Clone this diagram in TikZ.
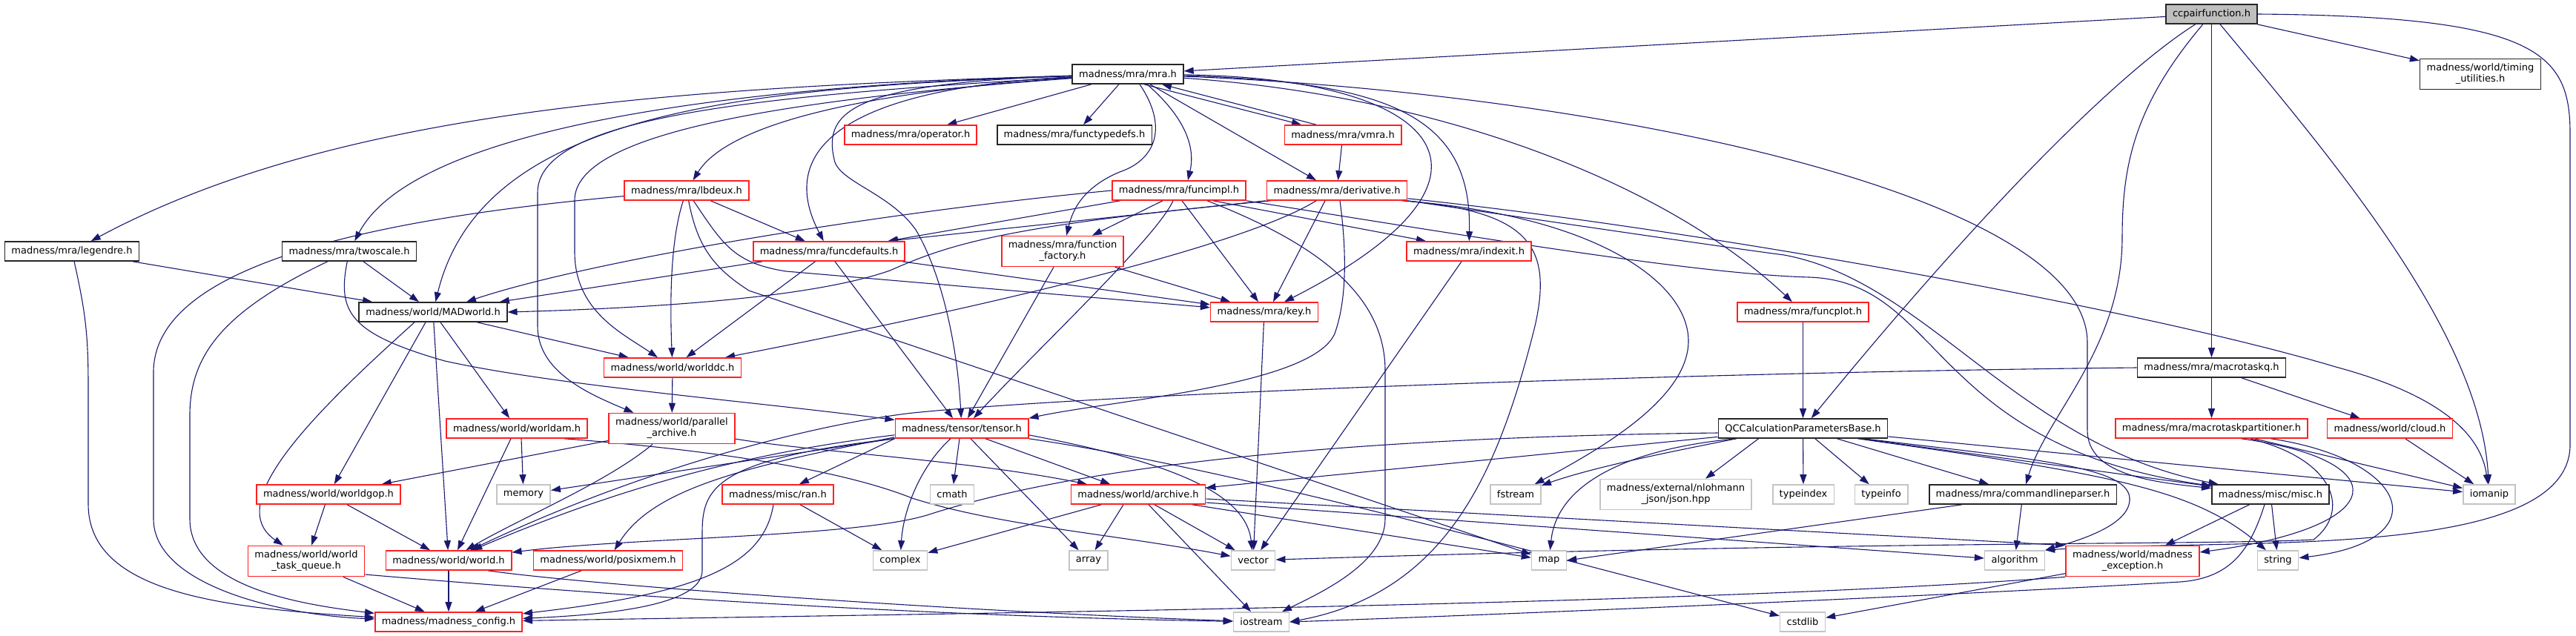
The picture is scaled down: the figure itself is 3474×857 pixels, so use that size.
\documentclass[tikz,border=0pt]{standalone}
\usepackage{fontspec}
\newfontfamily\nodefont{DejaVu Sans}
\usetikzlibrary{arrows.meta}
\definecolor{edgec}{HTML}{191970}
\definecolor{dred}{HTML}{FF2020}
\definecolor{lgray}{HTML}{C4C4C4}
\definecolor{ccfill}{HTML}{BFBFBF}
\pgfdeclarelayer{bg}
\pgfsetlayers{bg,main}
\tikzset{
  box/.style={draw, rectangle, line width=1.6pt, inner xsep=9pt, inner ysep=0pt,
    minimum height=26pt, font={\nodefont\fontsize{13}{15}\selectfont}, align=center, fill=white},
  rbox/.style={box, draw=dred},
  bbox/.style={box, draw=black!85},
  gbox/.style={box, draw=lgray},
  two/.style={minimum height=41pt},
  e/.style={draw=edgec, line width=1.1pt, -{Triangle[length=13pt,width=9pt]}},
}
\begin{document}
\begin{tikzpicture}[x=1pt,y=-1pt]
\useasboundingbox (0,0) rectangle (3474,857);
% nodes
\node[bbox, fill=ccfill] (cc) at (2982.5,19) {ccpairfunction.h};
\node[bbox] (mra) at (1521,100) {madness/mra/mra.h};
\node[bbox] (legendre) at (97,339) {madness/mra/legendre.h};
\node[bbox] (twoscale) at (471,339) {madness/mra/twoscale.h};
\node[rbox] (lbdeux) at (926,257) {madness/mra/lbdeux.h};
\node[rbox] (operator) at (1228,182) {madness/mra/operator.h};
\node[bbox] (functypedefs) at (1449,182) {madness/mra/functypedefs.h};
\node[rbox] (vmra) at (1811,182) {madness/mra/vmra.h};
\node[rbox] (funcimpl) at (1590,257) {madness/mra/funcimpl.h};
\node[rbox] (derivative) at (1803,257) {madness/mra/derivative.h};
\node[rbox] (funcdefaults) at (1118,339) {madness/mra/funcdefaults.h};
\node[rbox, two] (ffactory) at (1433,339) {madness/mra/function\\\_factory.h};
\node[rbox] (indexit) at (1981,339) {madness/mra/indexit.h};
\node[rbox] (key) at (1705,421) {madness/mra/key.h};
\node[bbox] (madworld) at (584,421) {madness/world/MADworld.h};
\node[rbox] (funcplot) at (2431.5,421) {madness/mra/funcplot.h};
\node[bbox, two] (timing) at (3345,100) {madness/world/timing\\\_utilities.h};
\node[rbox] (worlddc) at (907,496) {madness/world/worlddc.h};
\node[bbox] (macrotaskq) at (2982.5,496) {madness/mra/macrotaskq.h};
\node[rbox] (worldam) at (697,578) {madness/world/worldam.h};
\node[rbox, two] (parallel) at (906,578) {madness/world/parallel\\\_archive.h};
\node[rbox] (tensor) at (1297,578) {madness/tensor/tensor.h};
\node[bbox] (qccalc) at (2431.5,578) {QCCalculationParametersBase.h};
\node[rbox] (mtpart) at (2982.5,578) {madness/mra/macrotaskpartitioner.h};
\node[rbox] (cloud) at (3223,578) {madness/world/cloud.h};
\node[rbox] (worldgop) at (443,667) {madness/world/worldgop.h};
\node[gbox] (memory) at (706,667) {memory};
\node[rbox] (ran) at (1049,667) {madness/misc/ran.h};
\node[gbox] (cmath) at (1284,667) {cmath};
\node[rbox] (archive) at (1535,667) {madness/world/archive.h};
\node[gbox] (fstream) at (2044,667) {fstream};
\node[gbox, two] (json) at (2260,667) {madness/external/nlohmann\\\_json/json.hpp};
\node[gbox] (typeindex) at (2432,667) {typeindex};
\node[gbox] (typeinfo) at (2537,667) {typeinfo};
\node[bbox] (cmdline) at (2728,667) {madness/mra/commandlineparser.h};
\node[bbox] (misc) at (3062,667) {madness/misc/misc.h};
\node[gbox] (iomanip) at (3357,667) {iomanip};
\node[rbox, two] (wtq) at (413,757) {madness/world/world\\\_task\_queue.h};
\node[rbox] (world) at (605,756) {madness/world/world.h};
\node[rbox] (posixmem) at (820,756) {madness/world/posixmem.h};
\node[gbox] (complex) at (1214,756) {complex};
\node[gbox] (array) at (1468,756) {array};
\node[gbox] (vector) at (1690,756) {vector};
\node[gbox] (map) at (2089,756) {map};
\node[gbox] (algorithm) at (2717,756) {algorithm};
\node[rbox, two] (mexc) at (2876,757) {madness/world/madness\\\_exception.h};
\node[gbox] (string) at (3072,756) {string};
\node[rbox] (config) at (605,839) {madness/madness\_config.h};
\node[gbox] (iostream) at (1701,839) {iostream};
\node[gbox] (cstdlib) at (2431,839) {cstdlib};

\begin{pgfonlayer}{bg}
% ccpairfunction
\draw[e] (cc) -- (mra);
\draw[e] (cc) -- (timing);
\draw[e] (cc) .. controls (2870,90) and (2700,250) .. (qccalc);
\draw[e] (cc) .. controls (2880,140) and (2862,220) .. (2862,320) .. controls (2862,470) and (2760,560) .. (cmdline);
\draw[e] (cc) -- (macrotaskq);
\draw[e] (cc) .. controls (3150,220) and (3345,450) .. (iomanip);
\draw[e] (cc.east) .. controls (3420,22) and (3466,70) .. (3466,180) -- (3466,600) .. controls (3466,760) and (3000,725) .. (algorithm.north east);
% mra
\draw[e] (mra) .. controls (900,118) and (450,150) .. (legendre);
\draw[e] (mra) .. controls (1000,115) and (560,170) .. (twoscale);
\draw[e] (mra) .. controls (1000,118) and (650,150) .. (madworld);
\draw[e] (mra) .. controls (1150,125) and (980,170) .. (lbdeux);
\draw[e] (mra) .. controls (1120,120) and (1050,210) .. (funcdefaults);
\draw[e] (mra) .. controls (1000,130) and (725,160) .. (725,260) -- (725,440) .. controls (725,500) and (790,530) .. (parallel);
\draw[e] (mra) .. controls (1050,135) and (775,180) .. (775,270) -- (775,340) .. controls (775,420) and (840,450) .. (worlddc);
\draw[e] (mra) -- (operator);
\draw[e] (mra) -- (functypedefs);
\draw[e] ([xshift=22pt]mra.south) -- ([xshift=-56pt]vmra.north);
\draw[e] ([xshift=-36pt]vmra.north) -- ([xshift=46pt]mra.south);
\draw[e] ([xshift=30pt]mra.south) -- ([xshift=-28pt]derivative.north);
\draw[e] ([xshift=26pt]mra.south) .. controls (1600,160) and (1612,200) .. ([xshift=12pt]funcimpl.north);
\draw[e] ([xshift=16pt]mra.south) .. controls (1575,170) and (1560,215) .. (1510,232) .. controls (1455,255) and (1445,290) .. (ffactory);
\draw[e] (mra) .. controls (1950,105) and (2060,240) .. (key);
\draw[e] (mra) .. controls (1880,110) and (1985,160) .. (indexit);
\draw[e] (mra) .. controls (1950,130) and (2250,250) .. (funcplot);
\draw[e] (mra) .. controls (2150,125) and (2810,260) .. (2815,460) -- (2815,580) .. controls (2815,640) and (2900,650) .. (misc);
\draw[e] (mra) .. controls (1150,112) and (1110,150) .. (1125,215) .. controls (1130,245) and (1200,260) .. (1235,310) .. controls (1265,360) and (1290,450) .. (tensor);
% vmra
\draw[e] (vmra) -- (derivative);
% lbdeux
\draw[e] (lbdeux) -- (funcdefaults);
\draw[e] (lbdeux) .. controls (905,320) and (903,400) .. (worlddc);
\draw[e] (lbdeux) .. controls (975,330) and (990,355) .. (1060,366) -- (key);
\draw[e] (lbdeux) .. controls (940,330) and (960,360) .. (1010,392) -- (map);
\draw[e] (lbdeux) .. controls (450,300) and (210,370) .. (207,500) -- (207,700) .. controls (207,790) and (380,830) .. (config);
% legendre
\draw[e] (legendre) -- (madworld);
\draw[e] (legendre) .. controls (115,420) and (119,450) .. (119,520) -- (119,680) .. controls (119,800) and (300,820) .. (config);
% twoscale
\draw[e] (twoscale) -- (madworld);
\draw[e] (twoscale) .. controls (455,420) and (470,450) .. (600,487) .. controls (750,520) and (1000,540) .. (tensor);
\draw[e] (twoscale) .. controls (300,420) and (256,480) .. (256,560) -- (256,700) .. controls (256,790) and (400,815) .. (config);
% MADworld
\draw[e] (madworld) -- (worlddc);
\draw[e] ([xshift=10pt]madworld.south) -- (worldam);
\draw[e] ([xshift=-10pt]madworld.south) -- (worldgop);
\draw[e] ([xshift=-25pt]madworld.south) .. controls (420,560) and (300,680) .. (wtq);
\draw[e] (madworld) -- (world);
% worlddc, parallel_archive
\draw[e] (worlddc) -- (parallel);
\draw[e] (parallel) -- (worldgop);
\draw[e] ([xshift=-26pt]parallel.south) .. controls (820,650) and (700,700) .. (world);
\draw[e] (parallel) .. controls (1100,610) and (1300,620) .. (archive);
% worldam
\draw[e] ([xshift=6pt]worldam.south) -- (memory);
\draw[e] ([xshift=-8pt]worldam.south) -- ([xshift=12pt]world.north);
\draw[e] ([xshift=64pt]worldam.south) .. controls (1000,610) and (1150,640) .. (1230,672) .. controls (1350,710) and (1500,720) .. (vector);
% worldgop, wtq, world, posixmem
\draw[e] (worldgop) -- (wtq);
\draw[e] (worldgop) -- (world);
\draw[e] (wtq) -- (config);
\draw[e] ([yshift=-18pt]wtq.east) .. controls (900,810) and (1300,832) .. (iostream);
\draw[e] (world) -- (config);
\draw[e] ([xshift=53pt]world.south) .. controls (800,790) and (1300,825) .. (iostream);
\draw[e] (posixmem) -- (config);
% tensor
\draw[e] (tensor) -- (memory);
\draw[e] (tensor.south west) -- (ran);
\draw[e] ([yshift=5pt]tensor.south west) .. controls (1000,612) and (830,660) .. (world);
\draw[e] ([yshift=2pt]tensor.south west) .. controls (1000,630) and (880,660) .. (posixmem);
\draw[e] (tensor.south west) .. controls (960,620) and (947,660) .. (947,720) -- (947,770) .. controls (947,820) and (800,830) .. (config);
\draw[e] ([xshift=-15pt]tensor.south) .. controls (1240,630) and (1218,690) .. (complex);
\draw[e] ([xshift=-3pt]tensor.south) -- (cmath);
\draw[e] ([xshift=12pt]tensor.south) -- (array);
\draw[e] ([xshift=32pt]tensor.south) -- (archive);
\draw[e] ([yshift=5pt]tensor.south east) .. controls (1560,620) and (1680,660) .. (vector);
\draw[e] (tensor.south east) .. controls (1650,630) and (2050,740) .. (cstdlib);
% funcdefaults, function_factory
\draw[e] ([xshift=8pt]funcdefaults.south) -- ([xshift=-12pt]tensor.north);
\draw[e] (funcdefaults) -- (key);
\draw[e] (funcdefaults) -- (madworld);
\draw[e] (funcdefaults) -- (worlddc);
\draw[e] ([xshift=-12pt]ffactory.south) -- ([xshift=8pt]tensor.north);
\draw[e] (ffactory) -- (key);
% funcimpl
\draw[e] ([xshift=-8pt]funcimpl.south) .. controls (1560,320) and (1400,470) .. ([xshift=16pt]tensor.north);
\draw[e] ([xshift=4pt]funcimpl.south) -- ([xshift=-8pt]key.north);
\draw[e] (funcimpl) -- (funcdefaults);
\draw[e] (funcimpl.west) .. controls (1200,285) and (800,350) .. ([xshift=45pt]madworld.north);
\draw[e] ([xshift=-22pt]funcimpl.south) -- ([xshift=40pt]ffactory.north);
\draw[e] ([xshift=46pt]funcimpl.south) -- ([xshift=-58pt]indexit.north);
\draw[e] (funcimpl.south east) .. controls (2050,330) and (2300,370) .. (2440,374) .. controls (2620,380) and (2600,600) .. (misc);
\draw[e] ([xshift=38pt]funcimpl.south) .. controls (1780,330) and (1868,400) .. (1868,500) -- (1868,700) .. controls (1868,760) and (1780,800) .. (iostream);
% derivative
\draw[e] ([xshift=-16pt]derivative.south) -- ([xshift=12pt]key.north);
\draw[e] ([xshift=-96pt]derivative.south) -- ([xshift=80pt]funcdefaults.north);
\draw[e] ([xshift=6pt]derivative.south west) .. controls (1350,305) and (1280,330) .. (1200,365) .. controls (1100,400) and (900,415) .. (madworld.east);
\draw[e] ([xshift=-28pt]derivative.south) .. controls (1680,330) and (1350,410) .. (worlddc);
\draw[e] ([xshift=4pt]derivative.south) .. controls (1815,330) and (1818,400) .. (1800,450) .. controls (1770,520) and (1500,540) .. (tensor.north east);
\draw[e] (derivative.south east) .. controls (2100,300) and (2300,330) .. (2406,344) .. controls (2600,380) and (2720,600) .. (misc);
\draw[e] ([yshift=3pt]derivative.south east) .. controls (2300,310) and (2900,420) .. (3150,495) .. controls (3280,530) and (3345,580) .. (iomanip);
\draw[e] ([xshift=-8pt]derivative.south east) .. controls (2150,290) and (2277,380) .. (2277,460) .. controls (2277,540) and (2150,610) .. (fstream);
\draw[e] ([xshift=-4pt]derivative.south east) .. controls (2060,285) and (2095,330) .. (2070,440) .. controls (2020,640) and (1950,800) .. (iostream.east);
% indexit, key, funcplot
\draw[e] ([xshift=-10pt]indexit.south) -- ([xshift=10pt]vector.north);
\draw[e] (key) -- (vector);
\draw[e] (funcplot) -- (qccalc);
% macrotaskq
\draw[e] (macrotaskq) -- (mtpart);
\draw[e] (macrotaskq) -- (cloud);
\draw[e] (macrotaskq.west) .. controls (2300,502) and (1500,530) .. (1231,557) .. controls (1100,572) and (870,630) .. (world);
% macrotaskpartitioner, cloud
\draw[e] (mtpart) -- (iomanip);
\draw[e] ([xshift=52pt]mtpart.south) .. controls (3150,620) and (3170,690) .. (3120,728) .. controls (3000,735) and (2500,730) .. (vector);
\draw[e] ([xshift=40pt]mtpart.south) .. controls (3230,620) and (3230,710) .. (mexc);
\draw[e] ([xshift=80pt]mtpart.south) .. controls (3250,620) and (3290,730) .. (string);
\draw[e] (cloud) -- (iomanip);
% QCCalculationParametersBase
\draw[e] ([yshift=-6pt]qccalc.west) .. controls (1800,590) and (1450,630) .. (1250,695) .. controls (1150,725) and (850,725) .. (world);
\draw[e] (qccalc) -- (archive);
\draw[e] ([xshift=-90pt]qccalc.south) .. controls (2250,610) and (2150,630) .. (fstream);
\draw[e] ([xshift=-90pt]qccalc.south) .. controls (2200,605) and (2100,650) .. (map);
\draw[e] ([xshift=-60pt]qccalc.south) -- ([xshift=40pt]json.north);
\draw[e] (qccalc) -- (typeindex);
\draw[e] (qccalc) -- (typeinfo);
\draw[e] (qccalc) -- (cmdline);
\draw[e] ([xshift=78pt]qccalc.south) -- (misc);
\draw[e] ([xshift=74pt]qccalc.south) .. controls (2850,640) and (2960,660) .. (string);
\draw[e] (qccalc) -- (iomanip);
\draw[e] ([xshift=82pt]qccalc.south) .. controls (2750,620) and (2875,630) .. (2872,675) .. controls (2870,710) and (2800,730) .. (algorithm.north east);
% commandlineparser
\draw[e] (cmdline) -- (algorithm);
\draw[e] ([xshift=-82pt]cmdline.south) -- (map.east);
% misc
\draw[e] (misc) -- (mexc);
\draw[e] (misc) -- (string);
\draw[e] ([xshift=-8pt]misc.south) .. controls (3035,740) and (3010,780) .. (2940,785) .. controls (2600,805) and (2000,830) .. (iostream.east);
% madness_exception
\draw[e] (mexc.south west) .. controls (2300,815) and (1400,826) .. (config);
\draw[e] (mexc) -- (cstdlib);
% archive
\draw[e] (archive) -- (complex);
\draw[e] ([xshift=-20pt]archive.south) -- (array);
\draw[e] ([xshift=22pt]archive.south) -- (vector);
\draw[e] ([xshift=14pt]archive.south) -- ([xshift=-14pt]iostream.north);
\draw[e] ([xshift=73pt]archive.south) -- (map);
\draw[e] ([yshift=-6pt]archive.east) -- (mexc.north west);
\draw[e] ([yshift=-11pt]archive.east) -- (algorithm);
% ran
\draw[e] ([xshift=-6pt]ran.south) .. controls (1030,760) and (950,800) .. (config);
\draw[e] ([xshift=30pt]ran.south) -- (complex);
\end{pgfonlayer}
\end{tikzpicture}
\end{document}
